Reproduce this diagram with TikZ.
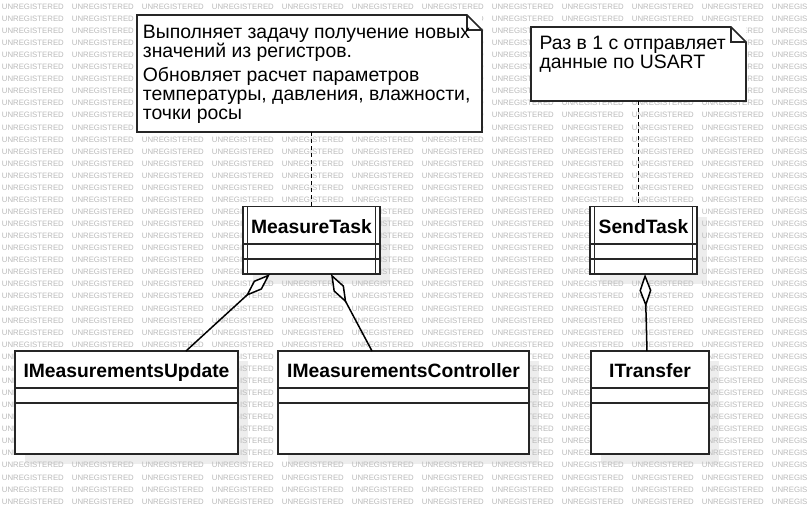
\documentclass[tikz,border=0pt]{standalone}
\usepackage{fontspec}
\setmainfont{Liberation Sans}
\usetikzlibrary{arrows.meta,calc}
\begin{document}
\begin{tikzpicture}[x=1pt,y=-1pt,
  wm/.style={font=\fontsize{7.8}{8}\selectfont, text=black!27, inner sep=0, anchor=base west},
  cls/.style={draw=black!85, line width=1.8, fill=white, inner sep=0, outer sep=0, anchor=north west},
  shadowbox/.style={fill=black!7, draw=none},
  sep/.style={draw=black!85, line width=1.6},
  title/.style={font=\fontsize{19.3}{20}\selectfont\bfseries, anchor=base, inner sep=0},
  notebox/.style={fill=white, draw=none, inner sep=0, outer sep=0, anchor=north west},
  notebd/.style={draw=black!85, line width=1.6, line join=miter},
  notetext/.style={font=\fontsize{19.4}{19}\selectfont, align=left, anchor=base west, inner sep=0},
  dep/.style={draw=black, line width=1.3, dash pattern=on 4 off 3},
  agg/.style={draw=black, line width=1.5, {Diamond[length=33,width=12,fill=white]}-}
]
\useasboundingbox (0,0) rectangle (807,514);
\fill[white] (0,0) rectangle (807,514);

% shadows
\fill[shadowbox] (253,216.5) rectangle (390,284);
\fill[shadowbox] (600,216.5) rectangle (707,284);
\fill[shadowbox] (25,361) rectangle (248,464);
\fill[shadowbox] (288,361) rectangle (539,464);
\fill[shadowbox] (601,361) rectangle (719,464);

% watermark
\foreach \i in {0,...,11} {
  \foreach \j in {0,...,41} {
    \node[wm] (w\i-\j) at ({1.7+70*\i},{9.3+12.07*\j}) {UNREGISTERED};
  }
}

% notes
\node[notebox, minimum width=345, minimum height=117] (n1) at (137,15) {};
\draw[notebd] (n1.north west) -- ($(n1.north east)+(-15,0)$) -- ($(n1.north east)+(0,15)$) -- (n1.south east) -- (n1.south west) -- cycle;
\draw[notebd] ($(n1.north east)+(-15,0)$) -- ($(n1.north east)+(-15,15)$) -- ($(n1.north east)+(0,15)$);
\node[notetext] (n1t) at (142.7,119.5) {Выполняет задачу получение новых\\значений из регистров.\\[5.5pt]Обновляет расчет параметров\\температуры, давления, влажности,\\точки росы};

\node[notebox, minimum width=215, minimum height=74] (n2) at (531,27) {};
\draw[notebd] (n2.north west) -- ($(n2.north east)+(-15,0)$) -- ($(n2.north east)+(0,15)$) -- (n2.south east) -- (n2.south west) -- cycle;
\draw[notebd] ($(n2.north east)+(-15,0)$) -- ($(n2.north east)+(-15,15)$) -- ($(n2.north east)+(0,15)$);
\node[notetext] (n2t) at (539.3,68.2) {Раз в 1 с отправляет\\данные по USART};

% MeasureTask
\node[cls, minimum width=137, minimum height=67.5] (mt) at (243,206.5) {};
\draw[sep] ($(mt.north west)+(0,37.5)$) -- ($(mt.north east)+(0,37.5)$);
\draw[sep] ($(mt.north west)+(0,52.5)$) -- ($(mt.north east)+(0,52.5)$);
\draw[sep] ($(mt.north west)+(4.5,0)$) -- ($(mt.south west)+(4.5,0)$);
\draw[sep] ($(mt.north east)+(-4.5,0)$) -- ($(mt.south east)+(-4.5,0)$);
\node[title] (mtt) at ($(mt.north)+(0,26.5)$) {MeasureTask};

% SendTask
\node[cls, minimum width=107, minimum height=67.5] (st) at (590,206.5) {};
\draw[sep] ($(st.north west)+(0,37.5)$) -- ($(st.north east)+(0,37.5)$);
\draw[sep] ($(st.north west)+(0,52.5)$) -- ($(st.north east)+(0,52.5)$);
\draw[sep] ($(st.north west)+(4.5,0)$) -- ($(st.south west)+(4.5,0)$);
\draw[sep] ($(st.north east)+(-4.5,0)$) -- ($(st.south east)+(-4.5,0)$);
\node[title] (stt) at ($(st.north)+(0,26.5)$) {SendTask};

% IMeasurementsUpdate
\node[cls, minimum width=223, minimum height=103] (imu) at (15,351) {};
\draw[sep] ($(imu.north west)+(0,37)$) -- ($(imu.north east)+(0,37)$);
\draw[sep] ($(imu.north west)+(0,52)$) -- ($(imu.north east)+(0,52)$);
\node[title] (imut) at ($(imu.north)+(0,26)$) {IMeasurementsUpdate};

% IMeasurementsController
\node[cls, minimum width=251, minimum height=103] (imc) at (278,351) {};
\draw[sep] ($(imc.north west)+(0,37)$) -- ($(imc.north east)+(0,37)$);
\draw[sep] ($(imc.north west)+(0,52)$) -- ($(imc.north east)+(0,52)$);
\node[title] (imct) at ($(imc.north)+(0,26)$) {IMeasurementsController};

% ITransfer
\node[cls, minimum width=118, minimum height=103] (itr) at (591,351) {};
\draw[sep] ($(itr.north west)+(0,37)$) -- ($(itr.north east)+(0,37)$);
\draw[sep] ($(itr.north west)+(0,52)$) -- ($(itr.north east)+(0,52)$);
\node[title] (itrt) at ($(itr.north)+(0,26)$) {ITransfer};

% note links
\draw[dep] (n1.south -| mt.north) -- (mt.north);
\draw[dep] (n2.south) -- (n2.south |- st.north);

% aggregations
\draw[agg] ($(mt.south west)+(27,0)$) -- ($(imu.north west)+(171,0)$);
\draw[agg] ($(mt.south west)+(88,0)$) -- ($(imc.north west)+(94,0)$);
\draw[agg] ($(st.south west)+(55,0)$) -- ($(itr.north west)+(56,0)$);
\end{tikzpicture}
\end{document}
